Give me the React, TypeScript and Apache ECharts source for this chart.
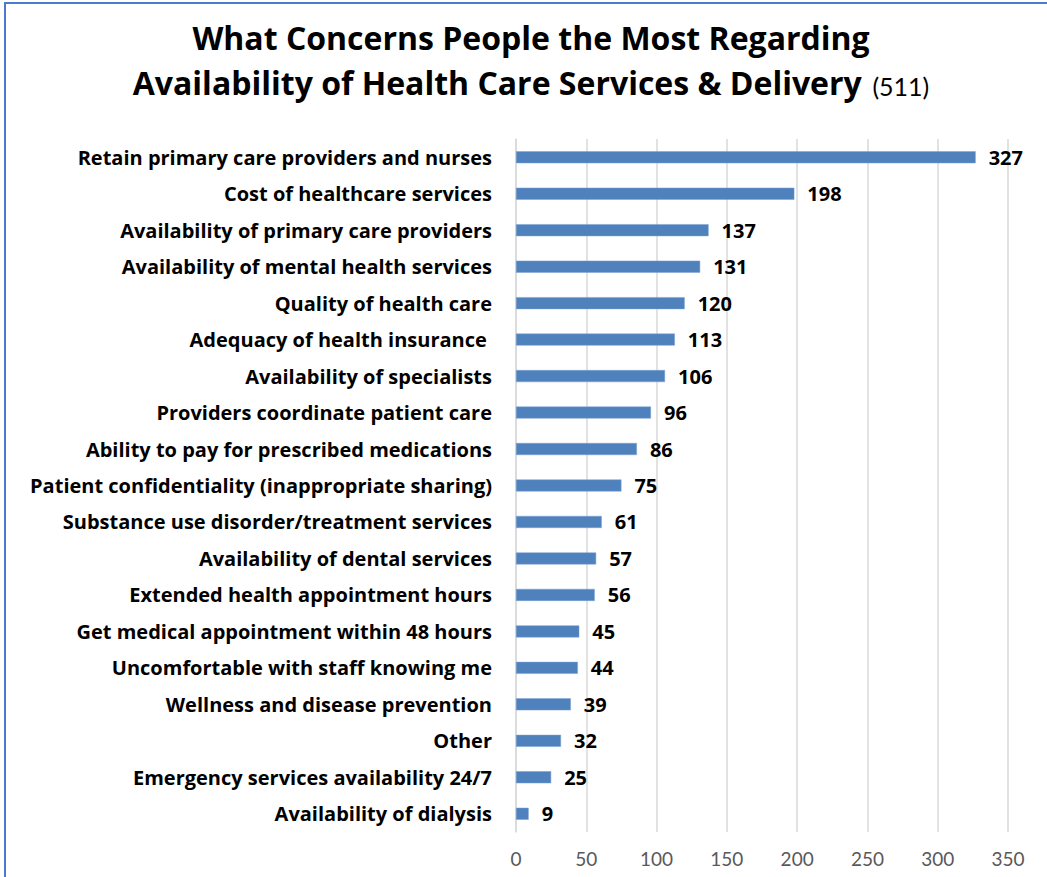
import React, { useEffect, useRef } from "react";
import * as echarts from "echarts";

const categories = [
  "Retain primary care providers and nurses",
  "Cost of healthcare services",
  "Availability of primary care providers",
  "Availability of mental health services",
  "Quality of health care",
  "Adequacy of health insurance ",
  "Availability of specialists",
  "Providers coordinate patient care",
  "Ability to pay for prescribed medications",
  "Patient confidentiality (inappropriate sharing)",
  "Substance use disorder/treatment services",
  "Availability of dental services",
  "Extended health appointment hours",
  "Get medical appointment within 48 hours",
  "Uncomfortable with staff knowing me",
  "Wellness and disease prevention",
  "Other",
  "Emergency services availability 24/7",
  "Availability of dialysis",
];
const values = [327, 198, 137, 131, 120, 113, 106, 96, 86, 75, 61, 57, 56, 45, 44, 39, 32, 25, 9];
const titleLine1 = "What Concerns People the Most Regarding";
const titleLine2 = "Availability of Health Care Services & Delivery";
const titleCount = "(511)";

const FONT = "'Open Sans', 'Noto Sans', sans-serif";
const TICKFONT = "Lato, 'Open Sans', sans-serif";

export default function App() {
  const ref = useRef<HTMLDivElement>(null);
  useEffect(() => {
    if (!ref.current) return;
    const chart = echarts.init(ref.current, undefined, { renderer: "svg" });
    chart.setOption({
      animation: false,
      backgroundColor: "#ffffff",
      textStyle: { fontFamily: FONT },
      graphic: [
        {
          type: "rect",
          shape: { x: 5, y: 3, width: 1200, height: 1000 },
          style: { fill: "none", stroke: "#4a7bd0", lineWidth: 2 },
          z: 100,
        },
      ],
      title: {
        left: 526,
        top: 10,
        textAlign: "center",
        text: `{a|${titleLine1}}\n{a|${titleLine2}} {b|${titleCount}}`,
        textStyle: {
          rich: {
            a: { fontFamily: FONT, fontSize: 32, fontWeight: "bold", color: "#000", lineHeight: 45 },
            b: { fontFamily: TICKFONT, fontSize: 25, fontWeight: "normal", color: "#000", lineHeight: 45, padding: [6, 0, 0, 6] },
          },
        },
      },
      grid: { left: 516, right: 39, top: 139, bottom: 45, containLabel: false },
      xAxis: {
        type: "value",
        min: 0,
        max: 350,
        interval: 50,
        axisLine: { show: false },
        axisTick: { show: false },
        splitLine: { show: true, lineStyle: { color: "#d9d9d9", width: 1.5 } },
        axisLabel: { color: "#595959", fontSize: 19, fontFamily: TICKFONT, margin: 17 },
      },
      yAxis: {
        type: "category",
        inverse: true,
        data: categories,
        axisLine: { show: true, lineStyle: { color: "#d9d9d9", width: 1.5 } },
        axisTick: { show: false },
        axisLabel: { color: "#000", fontSize: 20, fontWeight: "bold", fontFamily: FONT, margin: 24 },
      },
      series: [
        {
          type: "bar",
          data: values,
          barWidth: 12,
          itemStyle: { color: "#4f81bd", borderColor: "#7aa0d4", borderWidth: 0.5 },
          label: {
            show: true,
            position: "right",
            distance: 13,
            color: "#000",
            fontSize: 20,
            fontWeight: "bold",
            fontFamily: FONT,
          },
        },
      ],
    });
    return () => chart.dispose();
  }, []);
  return (
    <div
      ref={ref}
      style={{ position: "fixed", left: 0, top: 0, width: 1047, height: 877 }}
    />
  );
}
